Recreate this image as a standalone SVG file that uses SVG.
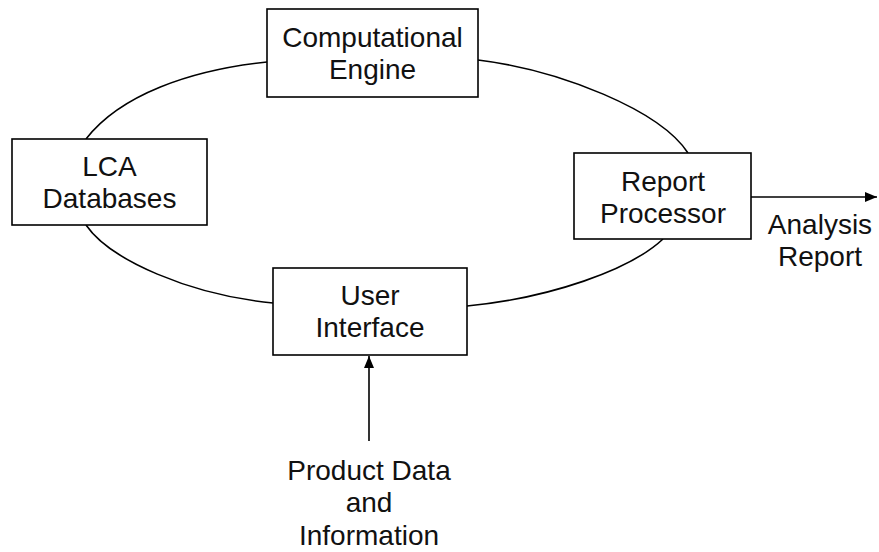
<svg xmlns="http://www.w3.org/2000/svg" width="879" height="552" viewBox="0 0 879 552">
<defs>
<style>
.box{fill:#fff;stroke:#000;stroke-width:1.6}
.lbl{font-family:"Liberation Sans",Arial,sans-serif;font-size:28px;fill:#111;text-anchor:middle}
.conn{fill:none;stroke:#000;stroke-width:1.6}
</style>
<marker id="ah" viewBox="0 0 12 10" refX="12" refY="5" markerWidth="12" markerHeight="10" markerUnits="userSpaceOnUse" orient="auto">
<path d="M0,0 L12,5 L0,10 Z" fill="#000"/>
</marker>
</defs>
<rect width="879" height="552" fill="#fff"/>
<g id="connectors">
<path class="conn" d="M86,139 C120,95 190,70 267,62"/>
<path class="conn" d="M478,60 C560,70 660,110 688,153"/>
<path class="conn" d="M86,225 C110,260 190,295 273,303"/>
<path class="conn" d="M663,239 C630,270 550,298 467,306"/>
<path class="conn" d="M751,197 L877,197" marker-end="url(#ah)"/>
<path class="conn" d="M369,441 L369,356" marker-end="url(#ah)"/>
</g>
<g id="computational-engine">
<rect class="box" x="267" y="9" width="211" height="88"/>
<text class="lbl" x="372.5" y="47">Computational</text>
<text class="lbl" x="372.5" y="79">Engine</text>
</g>
<g id="lca-databases">
<rect class="box" x="12" y="139" width="195" height="86"/>
<text class="lbl" x="109.5" y="176">LCA</text>
<text class="lbl" x="109.5" y="208">Databases</text>
</g>
<g id="report-processor">
<rect class="box" x="574" y="153" width="177" height="86"/>
<text class="lbl" x="663" y="191">Report</text>
<text class="lbl" x="663" y="223">Processor</text>
</g>
<g id="user-interface">
<rect class="box" x="273" y="268" width="194" height="87"/>
<text class="lbl" x="370" y="305">User</text>
<text class="lbl" x="370" y="337">Interface</text>
</g>
<g id="analysis-report">
<text class="lbl" x="820" y="234">Analysis</text>
<text class="lbl" x="820" y="266">Report</text>
</g>
<g id="product-data">
<text class="lbl" x="369" y="480">Product Data</text>
<text class="lbl" x="369" y="512">and</text>
<text class="lbl" x="369" y="545">Information</text>
</g>
</svg>
